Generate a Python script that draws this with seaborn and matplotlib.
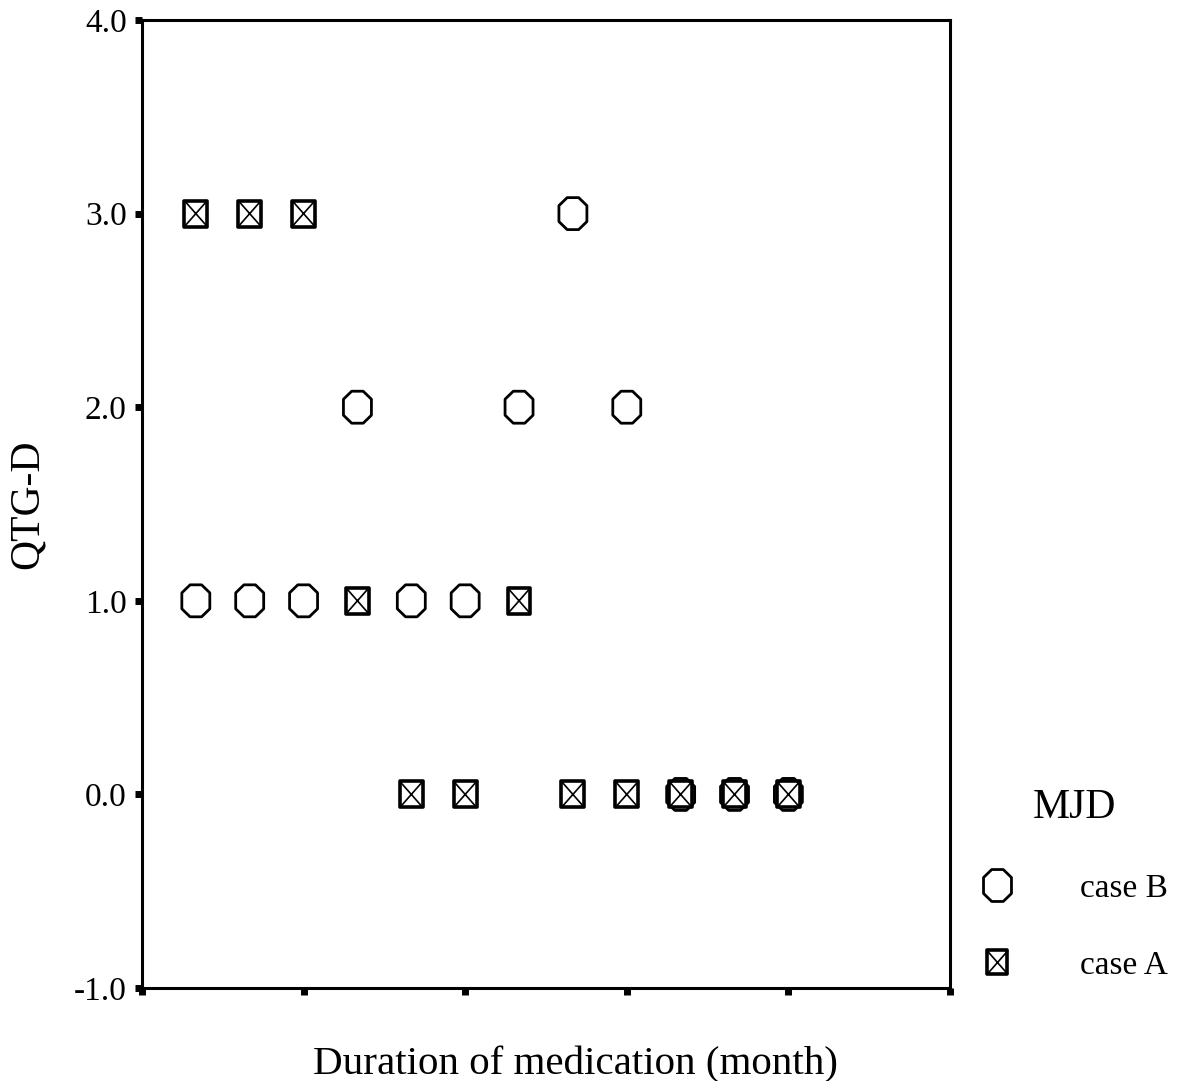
import matplotlib
matplotlib.use('Agg')
import matplotlib.pyplot as plt
from matplotlib.path import Path
from matplotlib.lines import Line2D
import pandas as pd
import seaborn as sns

# data
months = [1, 2, 3, 4, 5, 6, 7, 8, 9, 10, 11, 12]
qtg_case_b = [1, 1, 1, 2, 1, 1, 2, 3, 2, 0, 0, 0]
qtg_case_a = [3, 3, 3, 1, 0, 0, 1, 0, 0, 0, 0, 0]
groups = ['case B', 'case A']
y_ticks = [-1.0, 0.0, 1.0, 2.0, 3.0, 4.0]
x_ticks = [0, 3, 6, 9, 12, 15]

df = pd.DataFrame({
    'month': months * 2,
    'qtg': qtg_case_b + qtg_case_a,
    'MJD': [groups[0]] * len(months) + [groups[1]] * len(months),
})

sns.set_style('white')
plt.rcParams['font.family'] = ['Liberation Serif', 'DejaVu Serif']
for k in ['text.color', 'axes.labelcolor', 'xtick.color', 'ytick.color']:
    plt.rcParams[k] = 'black'

# SPSS-like markers: tall octagon, and a box with a cross in it
octagon = Path([(-0.18, 0.5), (0.18, 0.5), (0.4375, 0.25), (0.4375, -0.25),
                (0.18, -0.5), (-0.18, -0.5), (-0.4375, -0.25), (-0.4375, 0.25),
                (-0.18, 0.5)], closed=True)
box = Path([(-0.44, -0.5), (0.44, -0.5), (0.44, 0.5), (-0.44, 0.5), (-0.44, -0.5)],
           closed=True)
cross = Path([(-0.44, -0.5), (0.44, 0.5), (-0.44, 0.5), (0.44, -0.5)],
             [Path.MOVETO, Path.LINETO, Path.MOVETO, Path.LINETO])

fig = plt.figure(figsize=(11.81, 10.81), dpi=100)
ax = fig.add_axes([0.1202, 0.0860, 0.6842, 0.8955])

dB = df[df['MJD'] == 'case B']
dA = df[df['MJD'] == 'case A']
sns.scatterplot(data=dB, x='month', y='qtg', ax=ax, marker=octagon, s=530,
                facecolors='none', edgecolor='black', linewidth=2.0,
                legend=False, clip_on=False, zorder=3)
sns.scatterplot(data=dA, x='month', y='qtg', ax=ax, marker=box, s=350,
                facecolors='none', edgecolor='black', linewidth=2.6,
                legend=False, clip_on=False, zorder=3)
sns.scatterplot(data=dA, x='month', y='qtg', ax=ax, marker=cross, s=350,
                facecolors='none', edgecolor='black', linewidth=1.2,
                legend=False, clip_on=False, zorder=3)

ax.set_xlim(0, 15)
ax.set_ylim(-1, 4)
ax.set_xticks(x_ticks, labels=[])
ax.set_yticks(y_ticks, labels=[f'{v:.1f}' for v in y_ticks])
ax.tick_params(axis='both', direction='out', length=5, width=5, color='black',
               labelsize=24, pad=6, left=True, bottom=True)
for sp in ax.spines.values():
    sp.set_visible(True)
    sp.set_color('black')
    sp.set_linewidth(2.2)

ax.set_xlabel('Duration of medication (month)', fontsize=29.5)
ax.xaxis.set_label_coords(0.537, -0.060)
ax.set_ylabel('QTG-D', fontsize=30)
ax.yaxis.set_label_coords(-0.118, 0.5)

hB = Line2D([], [], ls='none', marker=octagon, markersize=23, mfc='none',
            mec='black', mew=2.0)
hA1 = Line2D([], [], ls='none', marker=box, markersize=17, mfc='none',
             mec='black', mew=2.6)
hA2 = Line2D([], [], ls='none', marker=cross, markersize=17, mfc='none',
             mec='black', mew=1.2)
leg = fig.legend([hB, (hA1, hA2)], groups, title='MJD', loc='upper left',
                 bbox_to_anchor=(0.830, 0.271), frameon=False, fontsize=24,
                 title_fontsize=30, handlelength=1.0, handletextpad=2.0,
                 labelspacing=1.4, borderpad=0, borderaxespad=0)

fig.savefig('out.png', dpi=100)
